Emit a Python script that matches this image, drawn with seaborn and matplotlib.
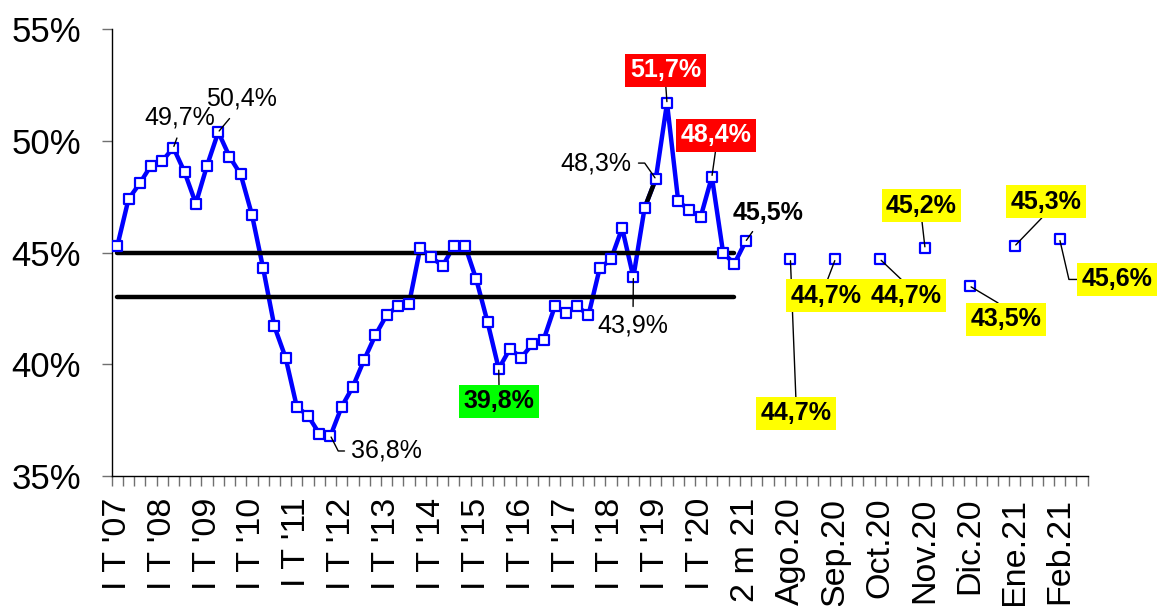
import numpy as np
import pandas as pd
import matplotlib
matplotlib.use("Agg")
import matplotlib.pyplot as plt
import seaborn as sns

# ---------------- data ----------------
tick_labels = ["I T '07", "I T '08", "I T '09", "I T '10", "I T '11", "I T '12",
               "I T '13", "I T '14", "I T '15", "I T '16", "I T '17", "I T '18",
               "I T '19", "I T '20", "2 m 21", "Ago.20", "Sep.20", "Oct.20",
               "Nov.20", "Dic.20", "Ene.21", "Feb.21"]

quarterly = [45.3, 47.4, 48.1, 48.9, 49.1, 49.7, 48.6, 47.2, 48.9, 50.4,
             49.3, 48.5, 46.7, 44.3, 41.7, 40.3, 38.1, 37.7, 36.9, 36.8,
             38.1, 39.0, 40.2, 41.3, 42.2, 42.6, 42.7, 45.2, 44.8, 44.4,
             45.3, 45.3, 43.8, 41.9, 39.8, 40.7, 40.3, 40.9, 41.1, 42.6,
             42.3, 42.6, 42.2, 44.3, 44.7, 46.1, 43.9, 47.0, 48.3, 51.7,
             47.3, 46.9, 46.6, 48.4, 45.0, 44.5, 45.5]

monthly = [44.7, 44.7, 44.7, 45.2, 43.5, 45.3, 45.6]

band_levels = [45.0, 43.0]

# ---------------- style ----------------
sns.set_theme(style="white")
plt.rcParams["font.family"] = ["Liberation Sans", "DejaVu Sans"]

BLUE = "#0000FF"

fig = plt.figure(figsize=(11.58, 6.06), dpi=100)
ax = fig.add_axes([0.09646, 0.21452, 0.84283, 0.73713])

q_pos = np.arange(len(quarterly))
m_pos = len(quarterly) + 3 + 4 * np.arange(len(monthly))
n_cat = int(m_pos[-1]) + 3

dq = pd.DataFrame({"pos": q_pos, "val": quarterly})
dm = pd.DataFrame({"pos": m_pos, "val": monthly})

# main blue line
sns.lineplot(data=dq, x="pos", y="val", color=BLUE, lw=3.2, ax=ax, zorder=2)
# black segment (47 -> 48)
sns.lineplot(data=dq.iloc[47:49], x="pos", y="val", color="black", lw=3.2, ax=ax, zorder=3)

# reference bands
for lvl in band_levels:
    band = pd.DataFrame({"pos": q_pos[[0, -2]], "val": [lvl, lvl]})
    sns.lineplot(data=band, x="pos", y="val", color="black", lw=3.2, ax=ax, zorder=3)

# markers
for d in (dq, dm):
    sns.scatterplot(data=d, x="pos", y="val", marker="s", s=54, color="white",
                    edgecolor=BLUE, linewidth=1.6, ax=ax, zorder=4)

# ---------------- annotations ----------------
def fmt(v):
    return f"{v:.1f}".replace(".", ",") + "%"

# (series, index, text x, text y, style, relpos, connectionstyle, shrinkA)
annotations = [
    ("q", 5, 5.59, 51.05, "plain", (0.5, 0.0), "arc3", 4),
    ("q", 9, 11.07, 51.88, "plain", (0.42, 0.0), "arc3", 4),
    ("q", 19, 23.95, 36.12, "plain", (0.0, 0.5), "angle,angleA=0,angleB=-63,rad=0", 2),
    ("q", 34, 34.03, 38.34, "green", (0.5, 1.0), "arc3", 0),
    ("q", 46, 45.97, 41.72, "plain", (0.5, 1.0), "arc3", 3),
    ("q", 48, 42.63, 49.01, "plain", (1.0, 0.5), "angle,angleA=0,angleB=125,rad=0", 3),
    ("q", 49, 48.87, 53.16, "red", (0.5, 0.0), "arc3", 0),
    ("q", 53, 53.37, 50.25, "red", (0.5, 0.0), "arc3", 0),
    ("q", 56, 58.0, 46.78, "bold", (0.35, 0.0), "arc3", 3),
    ("m", 0, 60.5, 37.8, "yellow", (0.5, 1.0), "arc3", 0),
    ("m", 1, 63.17, 43.07, "yellow", (0.5, 1.0), "arc3", 0),
    ("m", 2, 70.31, 43.06, "yellow", (0.5, 1.0), "arc3", 0),
    ("m", 3, 71.69, 47.11, "yellow", (0.5, 0.0), "arc3", 0),
    ("m", 4, 79.18, 42.01, "yellow", (0.5, 1.0), "arc3", 0),
    ("m", 5, 82.79, 47.29, "yellow", (0.5, 0.0), "arc3", 0),
    ("m", 6, 89.12, 43.8, "yellow", (0.0, 0.5), "angle,angleA=0,angleB=-77,rad=0", 0),
]

for series, i, tx, ty, style, relpos, cstyle, shA in annotations:
    if series == "q":
        px, py = q_pos[i], quarterly[i]
    else:
        px, py = m_pos[i], monthly[i]
    kw = dict(fontsize=18, color="black", ha="center", va="center")
    kw["fontweight"] = "normal" if style == "plain" else "bold"
    if style == "red":
        kw["color"] = "white"
        kw["bbox"] = dict(boxstyle="square,pad=0.18", fc="#FF0000", ec="none")
    elif style == "green":
        kw["bbox"] = dict(boxstyle="square,pad=0.18", fc="#00FF00", ec="none")
    elif style == "yellow":
        kw["bbox"] = dict(boxstyle="square,pad=0.18", fc="#FFFF00", ec="none")
    ax.annotate(fmt(py), xy=(px, py), xytext=(tx, ty), textcoords="data",
                arrowprops=dict(arrowstyle="-", color="black", lw=1,
                                shrinkA=shA, shrinkB=1, relpos=relpos,
                                connectionstyle=cstyle),
                annotation_clip=False, zorder=6, **kw)

# ---------------- axes ----------------
ax.set_xlim(-0.5, n_cat - 0.5)
ax.set_ylim(35, 55)
ax.set_xlabel("")
ax.set_ylabel("")

yt = [35, 40, 45, 50, 55]
ax.set_yticks(yt)
ax.set_yticklabels([f"{v}%" for v in yt], fontsize=25)

ax.set_xticks(np.arange(0, 4 * len(tick_labels), 4))
ax.set_xticklabels(tick_labels, rotation=90, fontsize=24.5)
ax.set_xticks(np.arange(-0.5, n_cat, 1.0), minor=True)

ax.tick_params(axis="x", which="major", length=0, pad=15.5, colors="black")
ax.tick_params(axis="x", which="minor", length=7.2, width=1, direction="out",
               color="#707070", bottom=True)
ax.tick_params(axis="y", which="major", length=7.2, width=1, direction="out",
               color="#707070", pad=15, left=True, labelcolor="black")

for s in ("top", "right"):
    ax.spines[s].set_visible(False)
for s in ("left", "bottom"):
    ax.spines[s].set_color("black")
    ax.spines[s].set_linewidth(1)

ax.grid(False)
fig.savefig("out.png", dpi=100)
